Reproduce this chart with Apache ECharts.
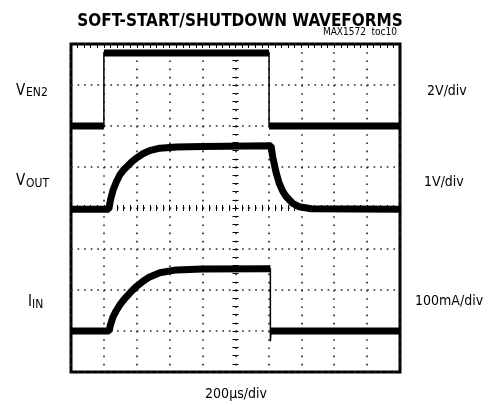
<!DOCTYPE html>
<html>
<head>
<meta charset="utf-8">
<script src="https://cdn.jsdelivr.net/npm/echarts@6/dist/echarts.min.js"></script>
<style>
html, body { margin: 0; padding: 0; background: #fff; }
#chart { width: 501px; height: 406px; }
</style>
</head>
<body>
<div id="chart"></div>
<script>
// time in µs (200µs/div), vertical position in screen divisions (0 = bottom edge, 8 = top edge)
const ven2Time = [0, 200, 200, 1204, 1204, 2000];
const ven2Div  = [6.0, 6.0, 7.78, 7.78, 6.0, 6.0];

const voutTime = [0, 230, 240, 256, 276, 296, 320, 338, 370, 402, 440, 478, 540, 640, 800, 1216,
                  1226, 1246, 1266, 1286, 1308, 1348, 1388, 1460, 2000];
const voutDiv  = [3.97, 3.97, 4.2, 4.44, 4.64, 4.8, 4.93, 5.0, 5.13, 5.23, 5.33, 5.4, 5.46, 5.49, 5.5, 5.52,
                  5.25, 4.88, 4.6, 4.42, 4.28, 4.11, 4.03, 3.98, 3.97];

const iinTime = [0, 232, 240, 256, 276, 296, 320, 338, 370, 402, 440, 478, 540, 640, 800, 1212, 1212, 1216, 2000];
const iinDiv  = [1.0, 1.0, 1.15, 1.35, 1.5, 1.63, 1.76, 1.84, 1.98, 2.1, 2.22, 2.32, 2.42, 2.49, 2.51, 2.52, 0.75, 1.0, 1.0];

const FONT = "'Liberation Sans Narrow', 'DejaVu Sans Condensed', sans-serif";
const DOT = '#222';

// thin line follows every point; thick "noise band" skips the steep edges
function thinPath(t, v) {
  return t.map((x, i) => [x, v[i]]);
}
function thickPath(t, v) {
  let out = [];
  for (let i = 0; i < t.length; i++) {
    if (i > 0 && Math.abs(v[i] - v[i - 1]) > 0.05 * (t[i] - t[i - 1])) {
      out.push([t[i], '-']);
    }
    out.push([t[i], v[i]]);
  }
  return out;
}

function trace(t, v) {
  return [
    {
      type: 'line', xAxisIndex: 0, yAxisIndex: 0, data: thinPath(t, v),
      showSymbol: false, symbol: 'none', silent: true,
      lineStyle: { color: '#000', width: 1.5 }
    },
    {
      type: 'line', xAxisIndex: 0, yAxisIndex: 0, data: thickPath(t, v),
      showSymbol: false, symbol: 'none', silent: true, connectNulls: false,
      lineStyle: { color: '#000', width: 7, cap: 'butt' }
    }
  ];
}

// axis used only for the tick crosses on the centre lines
function centerX(grid, inside) {
  return {
    type: 'value', gridIndex: grid, min: -1000, max: 1000, interval: 200,
    axisLine: { show: true, onZero: true, lineStyle: { opacity: 0 } },
    axisTick: { show: true, inside: inside, length: 3, lineStyle: { color: '#000', width: 1 } },
    minorTick: { show: true, splitNumber: 5, length: 3, lineStyle: { color: '#000', width: 1 } },
    axisLabel: { show: false }, splitLine: { show: false }
  };
}
function centerY(grid, inside) {
  return {
    type: 'value', gridIndex: grid, min: -4, max: 4, interval: 1,
    axisLine: { show: true, onZero: true, lineStyle: { opacity: 0 } },
    axisTick: { show: true, inside: inside, length: 3, lineStyle: { color: '#000', width: 1 } },
    minorTick: { show: true, splitNumber: 5, length: 3, lineStyle: { color: '#000', width: 1 } },
    axisLabel: { show: false }, splitLine: { show: false }
  };
}

const box = { left: 71, top: 44, width: 329, height: 328 };

let chart = echarts.init(document.getElementById('chart'));
chart.setOption({
  animation: false,
  backgroundColor: '#fff',
  title: {
    text: 'SOFT-START/SHUTDOWN WAVEFORMS',
    left: 235, top: 8, textAlign: 'center',
    textStyle: { fontFamily: FONT, fontWeight: 'bold', fontSize: 17, color: '#000' }
  },
  grid: [
    Object.assign({ show: true, borderColor: '#000', borderWidth: 3, backgroundColor: 'transparent' }, box),
    Object.assign({ show: false }, box),
    Object.assign({ show: false }, box)
  ],
  xAxis: [
    {
      type: 'value', gridIndex: 0, min: 0, max: 2000, interval: 200,
      axisLine: { show: false }, axisTick: { show: false }, axisLabel: { show: false },
      splitLine: { show: true, lineStyle: { color: DOT, width: 1.6, type: [1.6, 6.6] } }
    },
    {
      type: 'value', gridIndex: 0, position: 'top', min: 0, max: 2000, interval: 200,
      axisLine: { show: false },
      axisTick: { show: true, inside: true, length: 4, lineStyle: { color: '#000' } },
      minorTick: { show: true, splitNumber: 5, length: 4, lineStyle: { color: '#000' } },
      axisLabel: { show: false }, splitLine: { show: false }
    },
    centerX(1, true),
    centerX(2, false)
  ],
  yAxis: [
    {
      type: 'value', gridIndex: 0, min: 0, max: 8, interval: 1,
      axisLine: { show: false }, axisTick: { show: false }, axisLabel: { show: false },
      splitLine: { show: true, lineStyle: { color: DOT, width: 1.6, type: [1.6, 4.98] } }
    },
    centerY(1, true),
    centerY(2, false)
  ],
  series: [].concat(trace(ven2Time, ven2Div), trace(voutTime, voutDiv), trace(iinTime, iinDiv)),
  graphic: [
    { type: 'text', x: 397, y: 32, style: { text: 'MAX1572  toc10', fontFamily: FONT, fontSize: 10, fill: '#000', align: 'right', verticalAlign: 'middle' } },

    { type: 'text', x: 16, y: 91, style: { text: 'V', fontFamily: FONT, fontSize: 15, fill: '#000', verticalAlign: 'middle' } },
    { type: 'text', x: 26, y: 93, style: { text: 'EN2', fontFamily: FONT, fontSize: 12, fill: '#000', verticalAlign: 'middle' } },
    { type: 'text', x: 16, y: 181, style: { text: 'V', fontFamily: FONT, fontSize: 15, fill: '#000', verticalAlign: 'middle' } },
    { type: 'text', x: 26, y: 184, style: { text: 'OUT', fontFamily: FONT, fontSize: 12, fill: '#000', verticalAlign: 'middle' } },
    { type: 'text', x: 28, y: 302, style: { text: 'I', fontFamily: FONT, fontSize: 15, fill: '#000', verticalAlign: 'middle' } },
    { type: 'text', x: 32, y: 305, style: { text: 'IN', fontFamily: FONT, fontSize: 12, fill: '#000', verticalAlign: 'middle' } },

    { type: 'text', x: 427, y: 91, style: { text: '2V/div', fontFamily: FONT, fontSize: 14, fill: '#000', verticalAlign: 'middle' } },
    { type: 'text', x: 424, y: 182, style: { text: '1V/div', fontFamily: FONT, fontSize: 14, fill: '#000', verticalAlign: 'middle' } },
    { type: 'text', x: 415, y: 301, style: { text: '100mA/div', fontFamily: FONT, fontSize: 14, fill: '#000', verticalAlign: 'middle' } },

    { type: 'text', x: 236, y: 394, style: { text: '200µs/div', fontFamily: FONT, fontSize: 14, fill: '#000', align: 'center', verticalAlign: 'middle' } }
  ]
});
</script>
</body>
</html>
